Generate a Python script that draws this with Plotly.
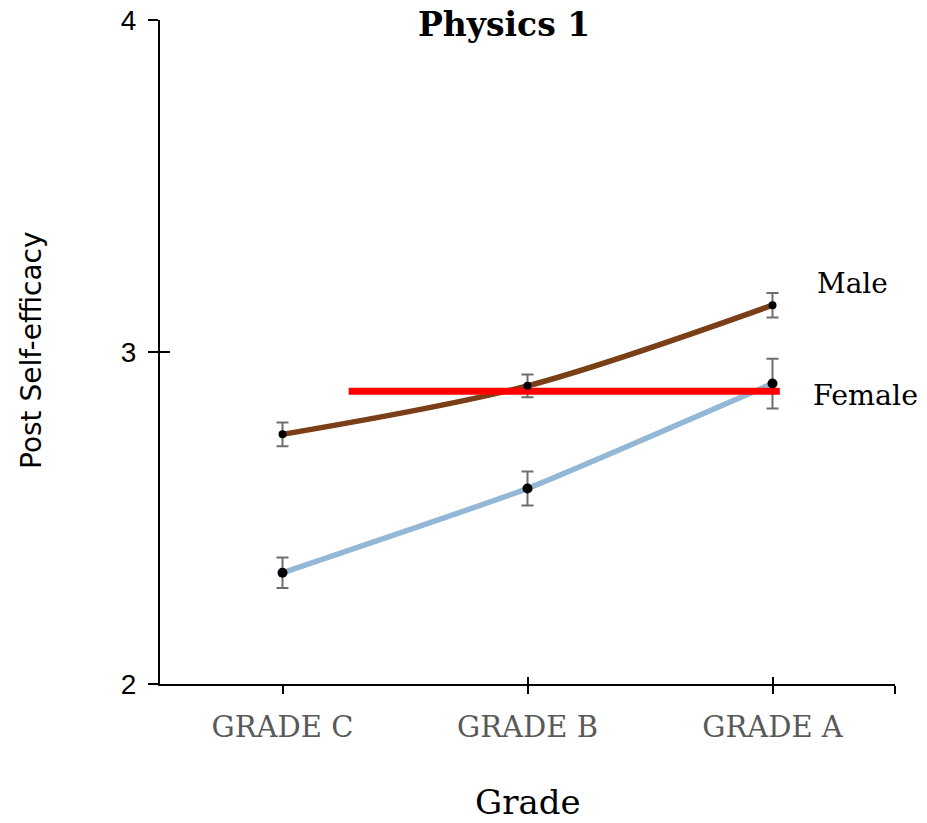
import plotly.graph_objects as go

# ---- data ----
grades = ["GRADE C", "GRADE B", "GRADE A"]
grade_pos = [0, 1, 2]
male_mean = [2.752, 2.898, 3.141]
male_err = [0.036, 0.034, 0.037]
female_mean = [2.335, 2.589, 2.905]
female_err = [0.046, 0.051, 0.075]
ref_x = [0.27, 2.03]
ref_y = [2.882, 2.882]
y_ticks = [2, 3, 4]

SERIF = "DejaVu Serif"
SANS = "Liberation Sans"
BROWN = "#7B3F17"
BLUE = "#93B8D7"
ERRC = "#6E6E6E"

fig = go.Figure()

# lines with error bars
fig.add_trace(go.Scatter(
    x=grade_pos, y=male_mean, mode="lines",
    line=dict(color=BROWN, width=5.5, shape="spline", smoothing=0.9),
    error_y=dict(type="data", array=male_err, color=ERRC, thickness=2, width=6),
    showlegend=False, hoverinfo="skip"))
fig.add_trace(go.Scatter(
    x=grade_pos, y=female_mean, mode="lines",
    line=dict(color=BLUE, width=5.5, shape="spline", smoothing=0.4),
    error_y=dict(type="data", array=female_err, color=ERRC, thickness=2, width=6),
    showlegend=False, hoverinfo="skip"))
# red reference line
fig.add_trace(go.Scatter(
    x=ref_x, y=ref_y, mode="lines",
    line=dict(color="#FF0000", width=7),
    showlegend=False, hoverinfo="skip"))
# markers on top
fig.add_trace(go.Scatter(
    x=grade_pos, y=male_mean, mode="markers",
    marker=dict(color="black", size=8),
    showlegend=False))
fig.add_trace(go.Scatter(
    x=grade_pos, y=female_mean, mode="markers",
    marker=dict(color="black", size=10),
    showlegend=False))
# invisible trace to activate overlay axes (inner tick halves)
fig.add_trace(go.Scatter(
    x=[grade_pos[0]], y=[y_ticks[0]], mode="markers", opacity=0,
    xaxis="x2", yaxis="y2", showlegend=False, hoverinfo="skip"))

x_tickvals = grade_pos + [2.5]
x_ticktext = grades + [""]

fig.update_layout(
    width=927, height=823,
    margin=dict(l=160, r=32, t=20, b=139),
    plot_bgcolor="white", paper_bgcolor="white",
    xaxis=dict(
        range=[-0.5, 2.5], tickvals=x_tickvals, ticktext=x_ticktext,
        showgrid=False, zeroline=False, automargin=False,
        showline=True, linecolor="black", linewidth=2,
        ticks="outside", ticklen=8, tickwidth=2, tickcolor="black",
        tickfont=dict(family=SERIF, size=29, color="#595959"),
        ticklabelstandoff=8,
    ),
    yaxis=dict(
        range=[2, 4], tickvals=y_ticks,
        showgrid=False, zeroline=False, automargin=False,
        showline=True, linecolor="black", linewidth=2,
        ticks="outside", ticklen=10, tickwidth=2, tickcolor="black",
        tickfont=dict(family=SANS, size=28, color="black"),
        ticklabelstandoff=6,
    ),
    xaxis2=dict(
        overlaying="x", anchor="y2", range=[-0.5, 2.5], tickvals=x_tickvals[1:],
        showgrid=False, zeroline=False, showline=False, showticklabels=False,
        automargin=False,
        ticks="inside", ticklen=7, tickwidth=2, tickcolor="black",
    ),
    yaxis2=dict(
        overlaying="y", anchor="x2", range=[2, 4], tickvals=y_ticks[1:],
        showgrid=False, zeroline=False, showline=False, showticklabels=False,
        automargin=False,
        ticks="inside", ticklen=10, tickwidth=2, tickcolor="black",
    ),
    annotations=[
        dict(text="<b>Physics 1</b>", xref="paper", yref="paper",
             x=(504 - 160) / 735, y=(684 - 25) / 664, xanchor="center", yanchor="middle",
             showarrow=False, font=dict(family=SERIF, size=33, color="black")),
        dict(text="Male", xref="paper", yref="paper",
             x=(852 - 160) / 735, y=(684 - 284) / 664, xanchor="center", yanchor="middle",
             showarrow=False, font=dict(family=SERIF, size=28, color="black")),
        dict(text="Female", xref="paper", yref="paper",
             x=(865 - 160) / 735, y=(684 - 396) / 664, xanchor="center", yanchor="middle",
             showarrow=False, font=dict(family=SERIF, size=28.5, color="black")),
        dict(text="Grade", xref="paper", yref="paper",
             x=(528 - 160) / 735, y=(684 - 802) / 664, xanchor="center", yanchor="middle",
             showarrow=False, font=dict(family=SERIF, size=34, color="black")),
        dict(text="Post Self-efficacy", xref="paper", yref="paper", textangle=-90,
             x=(31 - 160) / 735, y=(684 - 350) / 664, xanchor="center", yanchor="middle",
             showarrow=False, font=dict(family="DejaVu Sans", size=28, color="black")),
    ],
)

fig.write_html("out.html")
